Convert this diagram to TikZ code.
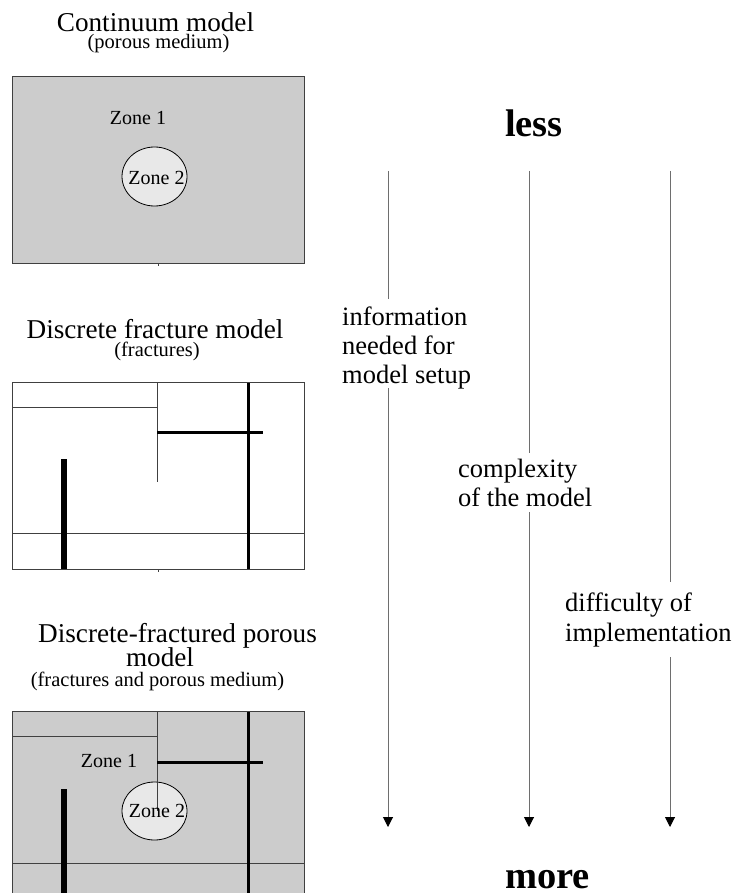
\documentclass[tikz,border=0pt]{standalone}
\usepackage{fontspec}
\setmainfont{Liberation Serif}
\usetikzlibrary{arrows.meta}
\definecolor{fillgray}{HTML}{CCCCCC}
\definecolor{zonefill}{HTML}{E8E8E8}
\definecolor{edge}{HTML}{404040}
\definecolor{arrowgray}{HTML}{6E6E6E}
\begin{document}
\begin{tikzpicture}[x=1pt,y=-1pt,
  titletext/.style={anchor=base, inner sep=0pt, text depth=0pt, font=\fontsize{27.2}{29}\selectfont},
  subtext/.style={anchor=base, inner sep=0pt, text height=13pt, text depth=3.5pt, font=\fontsize{20.5}{24}\selectfont},
  zonetext/.style={anchor=base, inner sep=0pt, font=\fontsize{20}{24}\selectfont},
  lbltext/.style={anchor=base west, inner sep=0pt, font=\fontsize{26.5}{29}\selectfont},
  bigtext/.style={anchor=base, inner sep=0pt, text depth=0pt, font=\bfseries\fontsize{38.5}{44}\selectfont},
  panel/.style={draw=edge, line width=1pt},
  thinline/.style={draw=edge, line width=1pt},
  frac/.style={draw=black, line width=3pt},
  fracwide/.style={draw=black, line width=5.5pt},
  zonecirc/.style={draw=black, fill=zonefill, line width=0.8pt},
  flow/.style={draw=arrowgray, line width=1pt},
  flowtip/.style={flow, -{Triangle[width=10pt,length=10pt,color=black]}}
]
\useasboundingbox (0,0) rectangle (736,893);
\clip (0,0) rectangle (736,893);

% ---------- Continuum model ----------
\node[titletext] (t1) at (155.5,32) {Continuum model};
\node[subtext] (s1) at (158.5,49) {(porous medium)};
\fill[fillgray] (12,77) rectangle (304,263);
\draw[zonecirc] (154.5,176.5) ellipse [x radius=32.5pt, y radius=29.5pt];
\draw[panel] (12,77) rectangle (304,263);
\draw[thinline] (158,263) -- (158,265.5);
\node[zonetext] (z1a) at (138,125) {Zone 1};
\node[zonetext] (z2a) at (156.5,185) {Zone 2};

% ---------- Discrete fracture model ----------
\node[titletext] (t2) at (155,338) {Discrete fracture model};
\node[subtext] (s2) at (157,356) {(fractures)};
\draw[thinline] (12,407) -- (157,407);
\draw[thinline] (157,382) -- (157,482);
\draw[thinline] (12,533) -- (304,533);
\draw[frac] (157,432) -- (263,432);
\draw[frac] (248,382) -- (248,569);
\draw[fracwide] (64,459) -- (64,569);
\draw[panel] (12,382) rectangle (304,569);
\draw[thinline] (158,569) -- (158,571.5);

% ---------- Discrete-fractured porous model ----------
\node[titletext] (t3a) at (177.5,642) {Discrete-fractured porous};
\node[titletext] (t3b) at (160,666) {model};
\node[subtext] (s3) at (157.5,686) {(fractures and porous medium)};
\fill[fillgray] (12,711) rectangle (304,900);
\draw[zonecirc] (154.5,811) ellipse [x radius=32.5pt, y radius=29pt];
\draw[thinline] (12,736) -- (157,736);
\draw[thinline] (157,711) -- (157,811);
\draw[thinline] (12,863) -- (304,863);
\draw[frac] (157,762) -- (263,762);
\draw[frac] (248,711) -- (248,900);
\draw[fracwide] (64,789) -- (64,900);
\draw[panel] (12,711) rectangle (304,900);
\node[zonetext] (z1b) at (109,767.5) {Zone 1};
\node[zonetext] (z2b) at (157,817.5) {Zone 2};

% ---------- less / more ----------
\node[bigtext] (less) at (534,136.5) {less};
\node[bigtext] (more) at (547.5,888) {more};

% ---------- arrows ----------
\coordinate (a1top) at (388,171);
\coordinate (a1gA) at (388,299);
\coordinate (a1gB) at (388,388);
\coordinate (a1end) at (388,827);
\coordinate (a2top) at (529,171);
\coordinate (a2gA) at (529,453);
\coordinate (a2gB) at (529,512);
\coordinate (a2end) at (529,827);
\coordinate (a3top) at (670,171);
\coordinate (a3gA) at (670,582);
\coordinate (a3gB) at (670,657);
\coordinate (a3end) at (670,827);
\draw[flow] (a1top) -- (a1gA);
\draw[flowtip] (a1gB) -- (a1end);
\draw[flow] (a2top) -- (a2gA);
\draw[flowtip] (a2gB) -- (a2end);
\draw[flow] (a3top) -- (a3gA);
\draw[flowtip] (a3gB) -- (a3end);

% ---------- arrow labels ----------
\node[lbltext] (l1a) at (342,325) {information};
\node[lbltext] (l1b) at (342,354) {needed for};
\node[lbltext] (l1c) at (342,383) {model setup};
\node[lbltext] (l2a) at (458,477) {complexity};
\node[lbltext] (l2b) at (458,506) {of the model};
\node[lbltext] (l3a) at (565,611.5) {difficulty of};
\node[lbltext] (l3b) at (565,641) {implementation};
\end{tikzpicture}
\end{document}
